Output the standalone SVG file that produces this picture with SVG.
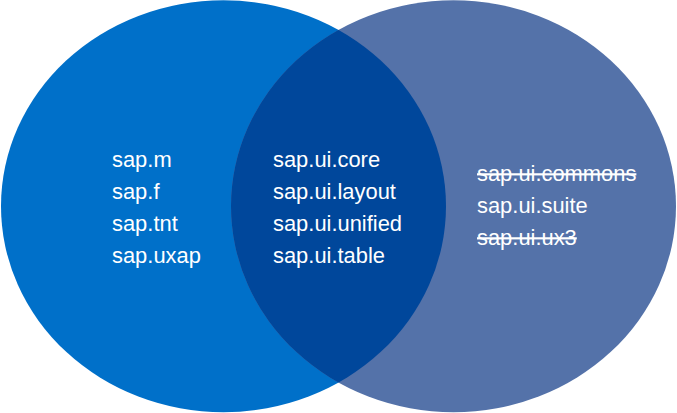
<svg xmlns="http://www.w3.org/2000/svg" width="677" height="413" viewBox="0 0 677 413">
  <style>
    .lbl { font-family: "Liberation Sans", Arial, sans-serif; font-size: 21.9px; fill: #ffffff; }
    .old { text-decoration: line-through; }
  </style>
  <defs>
    <clipPath id="clipLeft">
      <ellipse cx="223.5" cy="206.2" rx="222.5" ry="206"/>
    </clipPath>
  </defs>
  <rect width="677" height="413" fill="#ffffff"/>
  <g id="set-left">
    <ellipse cx="223.5" cy="206.2" rx="222.5" ry="206" fill="#0070c9"/>
  </g>
  <g id="set-right">
    <ellipse cx="453.5" cy="206.2" rx="222.5" ry="206" fill="#5472a9"/>
  </g>
  <g id="set-overlap">
    <ellipse cx="453.5" cy="206.2" rx="222.5" ry="206" fill="#00479b" clip-path="url(#clipLeft)"/>
  </g>
  <g id="labels-left">
    <text class="lbl" x="112" y="166.5">sap.m</text>
    <text class="lbl" x="112" y="198.5">sap.f</text>
    <text class="lbl" x="112" y="230.5">sap.tnt</text>
    <text class="lbl" x="112" y="262.5">sap.uxap</text>
  </g>
  <g id="labels-overlap">
    <text class="lbl" x="273" y="166.5">sap.ui.core</text>
    <text class="lbl" x="273" y="198.5">sap.ui.layout</text>
    <text class="lbl" x="273" y="230.5">sap.ui.unified</text>
    <text class="lbl" x="273" y="262.5">sap.ui.table</text>
  </g>
  <g id="labels-right">
    <text class="lbl old" x="477" y="181">sap.ui.commons</text>
    <text class="lbl" x="477" y="213">sap.ui.suite</text>
    <text class="lbl old" x="477" y="245">sap.ui.ux3</text>
  </g>
  <g id="connectors"/>
</svg>
